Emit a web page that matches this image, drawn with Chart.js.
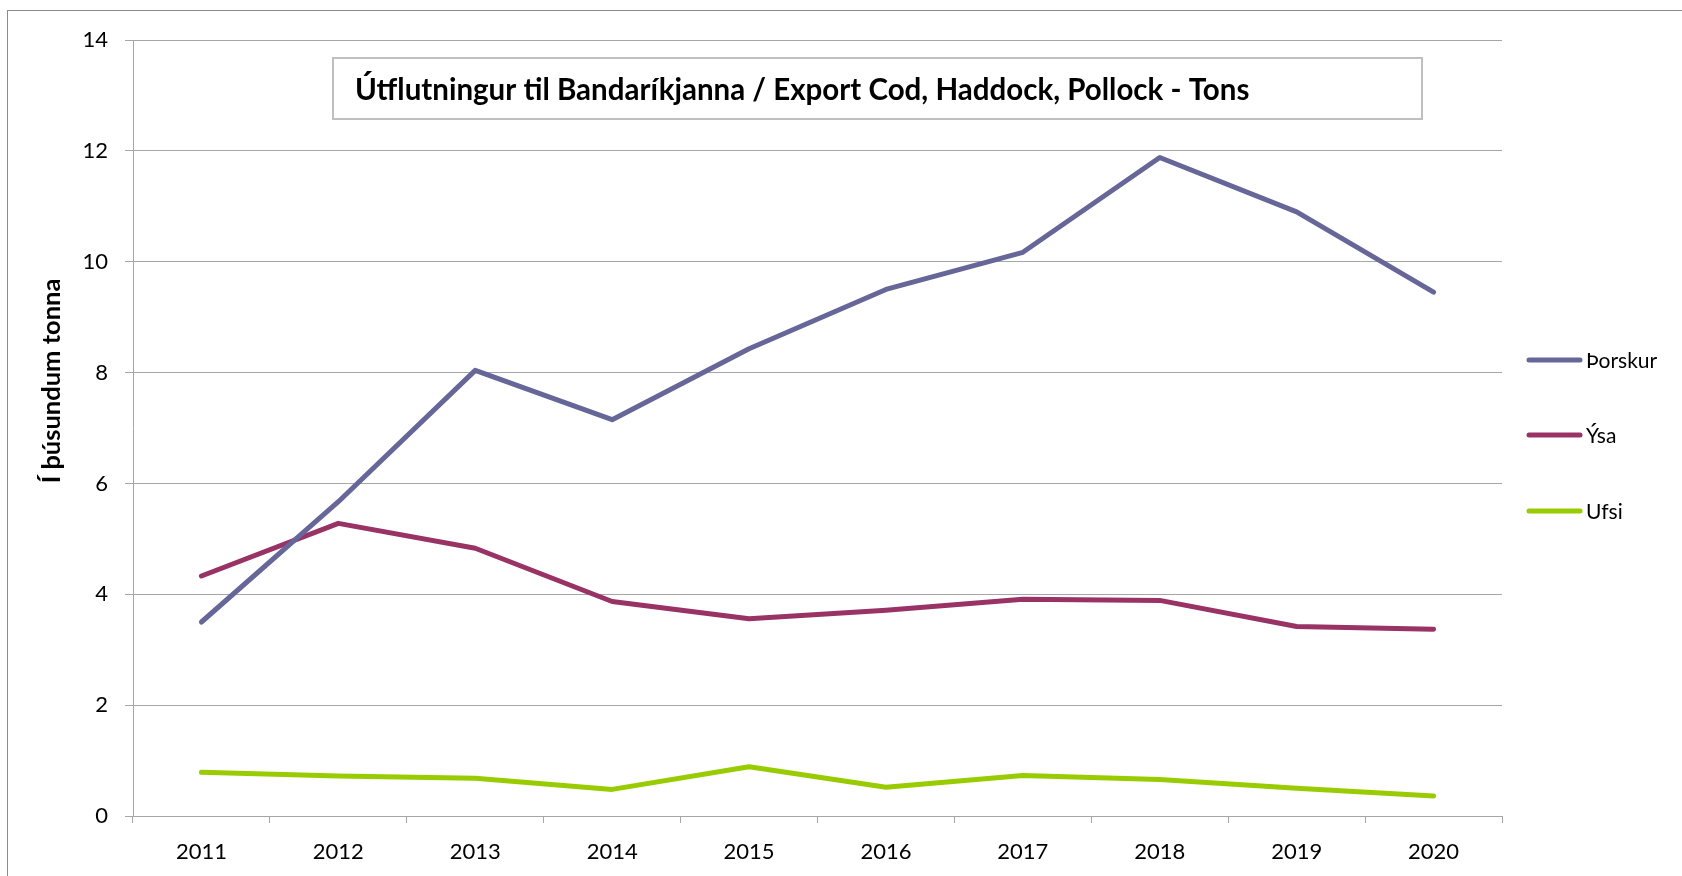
<!DOCTYPE html>
<html>
<head>
<meta charset="utf-8">
<script src="https://cdn.jsdelivr.net/npm/chart.js@4"></script>
<style>
  html, body { margin: 0; padding: 0; background: #fff; }
  #wrap { width: 1682px; height: 876px; position: relative; }
</style>
</head>
<body>
<div id="wrap"><canvas id="exportChart"></canvas></div>
<script>
  // Data (thousands of tonnes)
  var years = ["2011", "2012", "2013", "2014", "2015", "2016", "2017", "2018", "2019", "2020"];
  var thorskur = [3.50, 5.67, 8.04, 7.15, 8.43, 9.50, 10.17, 11.88, 10.90, 9.45];
  var ysa = [4.33, 5.28, 4.83, 3.87, 3.56, 3.71, 3.91, 3.89, 3.42, 3.37];
  var ufsi = [0.79, 0.72, 0.68, 0.48, 0.89, 0.52, 0.73, 0.66, 0.50, 0.36];
  var seriesNames = ["Þorskur", "Ýsa", "Ufsi"];
  var seriesColors = ["#666699", "#993366", "#99CC00"];
  var chartTitle = "Útflutningur til Bandaríkjanna / Export Cod, Haddock, Pollock - Tons";
  var yAxisTitle = "Í þúsundum tonna";

  var gridColor = "#A6A6A6";
  var fontFamily = "Lato, 'Liberation Sans', sans-serif";

  // extra bits the built-in plugins can't place: frame, boxed title, axis title, legend
  var decorPlugin = {
    id: 'decor',
    beforeDraw: function(chart) {
      var ctx = chart.ctx;
      ctx.save();
      ctx.fillStyle = '#fff';
      ctx.fillRect(0, 0, chart.width, chart.height);
      ctx.restore();
    },
    afterDraw: function(chart) {
      var ctx = chart.ctx;
      ctx.save();

      // outer frame
      ctx.strokeStyle = '#8C8C8C';
      ctx.lineWidth = 1;
      ctx.strokeRect(7.5, 10.5, chart.width + 20, chart.height + 20);

      // boxed title
      ctx.fillStyle = '#fff';
      ctx.fillRect(333, 58, 1089, 61);
      ctx.strokeStyle = '#BFBFBF';
      ctx.lineWidth = 2;
      ctx.strokeRect(333, 58, 1089, 61);
      ctx.fillStyle = '#000';
      ctx.font = "bold 29.5px " + fontFamily;
      ctx.textBaseline = 'middle';
      ctx.textAlign = 'left';
      ctx.fillText(chartTitle, 355, 90);

      // y axis title
      ctx.save();
      ctx.translate(52, 381);
      ctx.rotate(-Math.PI / 2);
      ctx.font = "bold 25.5px " + fontFamily;
      ctx.textAlign = 'center';
      ctx.textBaseline = 'middle';
      ctx.fillText(yAxisTitle, 0, 0);
      ctx.restore();

      // legend
      var legendY = [360, 435, 511];
      ctx.font = "21px " + fontFamily;
      ctx.textAlign = 'left';
      ctx.textBaseline = 'middle';
      ctx.lineCap = 'round';
      chart.data.datasets.forEach(function(ds, i) {
        ctx.strokeStyle = ds.borderColor;
        ctx.lineWidth = 5;
        ctx.beginPath();
        ctx.moveTo(1529, legendY[i]);
        ctx.lineTo(1580, legendY[i]);
        ctx.stroke();
        ctx.fillStyle = '#000';
        ctx.fillText(ds.label, 1586, legendY[i] + 1);
      });

      ctx.restore();
    }
  };

  function makeDataset(name, values, color) {
    return {
      label: name,
      data: values,
      borderColor: color,
      backgroundColor: color,
      borderWidth: 5,
      borderCapStyle: 'round',
      borderJoinStyle: 'round',
      pointRadius: 0,
      pointHoverRadius: 0,
      tension: 0,
      fill: false
    };
  }

  var ctx = document.getElementById('exportChart').getContext('2d');

  var myLineChart = new Chart(ctx, {
    type: 'line',
    data: {
      labels: years,
      datasets: [
        makeDataset(seriesNames[0], thorskur, seriesColors[0]),
        makeDataset(seriesNames[1], ysa, seriesColors[1]),
        makeDataset(seriesNames[2], ufsi, seriesColors[2])
      ]
    },
    options: {
      responsive: true,
      maintainAspectRatio: false,
      animation: false,
      layout: {
        padding: { top: 40, right: 180, bottom: 0, left: 0 }
      },
      plugins: {
        legend: { display: false },
        title: { display: false },
        tooltip: { enabled: false }
      },
      scales: {
        x: {
          offset: true,
          grid: {
            offset: true,
            drawOnChartArea: false,
            drawTicks: true,
            tickLength: 7,
            color: gridColor
          },
          border: { color: gridColor, width: 1 },
          ticks: {
            color: '#000',
            font: { family: fontFamily, size: 22 },
            padding: 16,
            maxRotation: 0
          },
          afterFit: function(scale) { scale.height = 60; }
        },
        y: {
          min: 0,
          max: 14,
          grid: {
            color: gridColor,
            tickLength: 8
          },
          border: { color: gridColor, width: 1 },
          ticks: {
            stepSize: 2,
            color: '#000',
            font: { family: fontFamily, size: 22 },
            padding: 17
          },
          afterFit: function(scale) { scale.width = 133; }
        }
      }
    },
    plugins: [decorPlugin]
  });
</script>
</body>
</html>
